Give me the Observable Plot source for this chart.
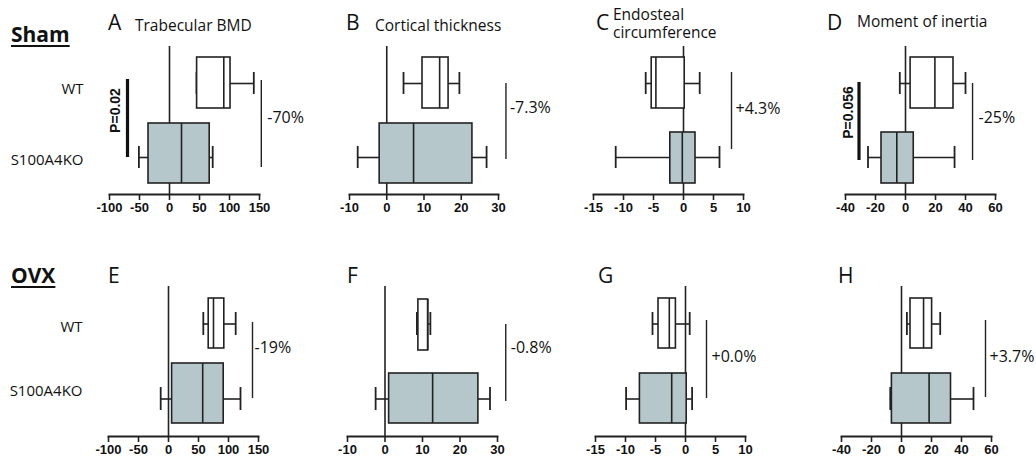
<!DOCTYPE html>
<html><head><meta charset="utf-8">
<script src="https://cdn.jsdelivr.net/npm/d3@7"></script>
<script src="https://cdn.jsdelivr.net/npm/@observablehq/plot@0.6"></script>
<style>
body{margin:0;background:#fff;}
#root{position:relative;width:1036px;height:460px;overflow:hidden;font-family:"Open Sans",sans-serif;color:#111;}
.lbl{position:absolute;white-space:pre;line-height:1;}
.panel{position:absolute;}
.panel svg{max-width:none !important;}
</style></head><body><div id="root"></div>
<script>
// ---------- data ----------
const groups = ["WT", "S100A4KO"];
const rowLabels = ["Sham", "OVX"];
const panelLetters = ["A", "B", "C", "D", "E", "F", "G", "H"];
const panelTitles = ["Trabecular BMD", "Cortical thickness", "Endosteal\ncircumference", "Moment of inertia", "", "", "", ""];
const xDomains = [[-100, 150], [-10, 30], [-15, 10], [-40, 60], [-100, 150], [-10, 30], [-15, 10], [-40, 60]];
const xTicks = [
  [-100, -50, 0, 50, 100, 150], [-10, 0, 10, 20, 30], [-15, -10, -5, 0, 5, 10], [-40, -20, 0, 20, 40, 60],
  [-100, -50, 0, 50, 100, 150], [-10, 0, 10, 20, 30], [-15, -10, -5, 0, 5, 10], [-40, -20, 0, 20, 40, 60]
];
// [min, q1, median, q3, max]
const wtStats = [
  [45, 46, 90.5, 101.7, 140.5], [4.5, 9.6, 14.2, 16.6, 19.5], [-6.3, -5.3, -4.6, 0.2, 2.7], [-3.8, 3.4, 19.6, 32, 40],
  [58, 67, 75, 93, 112], [8.5, 8.9, 11.4, 11.5, 12.1], [-5.5, -4.5, -2.7, -1.6, 0.7], [3.6, 6, 14.7, 20.4, 25.8]
];
const koStats = [
  [-51, -35, 20, 67, 72], [-7.8, -1.9, 7.2, 23, 26.8], [-11.3, -2.2, -0.2, 2, 6], [-25, -16, -5.8, 5.5, 32.7],
  [-13, 6, 57, 92, 120], [-2.5, 1.1, 12.7, 24.9, 28], [-9.9, -7.6, -2.3, 0.2, 1.1], [-7.5, -6.4, 18.4, 33, 48]
];
const changeLabels = ["-70%", "-7.3%", "+4.3%", "-25%", "-19%", "-0.8%", "+0.0%", "+3.7%"];
const pLabels = ["P=0.02", "", "", "P=0.056", "", "", "", ""];

// ---------- layout (positions & styles) ----------
const ink = "#222";
const koFill = "#b5c7ca";
const layout = [
  {row:0, x0:109, x1:259, mL:109, wtIn:[11,12], koIn:[3,11], br:153, brIn:[34,27], pdx:6, pdy:34, pBar:-70, pBarIn:[33,37], pText:-90, pTextDy:27},
  {row:0, x0:349, x1:498, mL:30, wtIn:[11,12], koIn:[3,11], br:32, brIn:[37,35], pdx:4, pdy:24},
  {row:0, x0:593, x1:743, mL:30, wtIn:[11,12], koIn:[12,11], br:8, brIn:[26,45], pdx:4, pdy:25},
  {row:0, x0:845, x1:995, mL:30, wtIn:[11,12], koIn:[12,11], br:44.7, brIn:[37,34], pdx:6, pdy:34, pBar:-31, pBarIn:[36,34], pText:-38, pTextDy:29},
  {row:1, x0:108, x1:258, mL:108, wtIn:[12,13], koIn:[2,13], br:140, brIn:[36,38], pdx:2, pdy:23.5},
  {row:1, x0:347, x1:497, mL:30, wtIn:[13,11], koIn:[12,13], br:32.2, brIn:[38,35], pdx:5, pdy:23.5},
  {row:1, x0:595, x1:745, mL:30, wtIn:[12,13], koIn:[12,13], br:3.5, brIn:[34,38], pdx:5, pdy:32.5},
  {row:1, x0:841, x1:991, mL:30, wtIn:[12,13], koIn:[12,13], br:56, brIn:[34,39], pdx:4, pdy:32.5}
];
const rowGeom = [
  {top:0, height:230, mT:46, mB:36, yRange:[46,194], wtDy:6, koDy:3},
  {top:230, height:230, mT:56, mB:24, yRange:[56,206], wtDy:3, koDy:-8}
];
const mR = 60;
const tickFont = "'Liberation Sans', Arial, sans-serif";
const textFont = "'Open Sans', sans-serif";

const root = document.getElementById("root");

function addLabel(text, left, baseline, size, opts = {}) {
  const d = document.createElement("div");
  d.className = "lbl";
  d.textContent = text;
  d.style.left = left + "px";
  const lh = opts.lineHeight || size;
  d.style.lineHeight = lh + "px";
  // baseline offset for Open Sans (ascent 1.069, descent 0.293)
  const base = (lh - 1.362 * size) / 2 + 1.069 * size;
  d.style.top = (baseline - base) + "px";
  d.style.fontSize = size + "px";
  if (opts.bold) d.style.fontWeight = "bold";
  if (opts.underline) { d.style.textDecoration = "underline"; d.style.textDecorationThickness = "2px"; d.style.textUnderlineOffset = "3px"; }
  root.appendChild(d);
}

function panel(i) {
  const L = layout[i];
  const R = rowGeom[L.row];
  const rows = groups.map((g, j) => {
    const s = j === 0 ? wtStats[i] : koStats[i];
    return {group: g, min: s[0], q1: s[1], med: s[2], q3: s[3], max: s[4]};
  });
  const marks = [];
  marks.push(Plot.ruleX([0], {stroke: ink, strokeWidth: 1.6}));
  rows.forEach((r, j) => {
    const ins = j === 0 ? L.wtIn : L.koIn;
    const d = [r];
    marks.push(Plot.ruleY(d, {y: "group", x1: "min", x2: "q1", stroke: ink, strokeWidth: 1.6}));
    marks.push(Plot.ruleY(d, {y: "group", x1: "q3", x2: "max", stroke: ink, strokeWidth: 1.6}));
    marks.push(Plot.tickX(d, {y: "group", x: "min", stroke: ink, strokeWidth: 1.8, insetTop: 26, insetBottom: 26}));
    marks.push(Plot.tickX(d, {y: "group", x: "max", stroke: ink, strokeWidth: 1.8, insetTop: 26, insetBottom: 26}));
    marks.push(Plot.barX(d, {y: "group", x1: "q1", x2: "q3", fill: j === 0 ? "white" : koFill, stroke: ink, strokeWidth: 1.6, insetTop: ins[0], insetBottom: ins[1]}));
    marks.push(Plot.tickX(d, {y: "group", x: "med", stroke: ink, strokeWidth: 1.6, insetTop: ins[0], insetBottom: ins[1]}));
  });
  // percent-change bracket
  marks.push(Plot.ruleX([{x: L.br, y1: groups[0], y2: groups[1]}], {x: "x", y1: "y1", y2: "y2", stroke: ink, strokeWidth: 1.4, insetTop: L.brIn[0], insetBottom: L.brIn[1]}));
  marks.push(Plot.text([{x: L.br, y: groups[0], t: changeLabels[i]}], {x: "x", y: "y", text: "t", textAnchor: "start", dx: L.pdx, dy: L.pdy, fontSize: 16, fontFamily: textFont, fill: "#111"}));
  if (pLabels[i]) {
    marks.push(Plot.ruleX([{x: L.pBar, y1: groups[0], y2: groups[1]}], {x: "x", y1: "y1", y2: "y2", stroke: "#111", strokeWidth: 3.2, insetTop: L.pBarIn[0], insetBottom: L.pBarIn[1]}));
    marks.push(Plot.text([{x: L.pText, y: groups[0], t: pLabels[i]}], {x: "x", y: "y", text: "t", rotate: -90, dy: L.pTextDy, fontSize: 14, fontWeight: "bold", fontFamily: tickFont, fill: "#111"}));
  }
  marks.push(Plot.frame({anchor: "bottom", stroke: ink, strokeWidth: 1.8}));
  marks.push(Plot.axisX({ticks: xTicks[i], tickFormat: (d) => String(d), tickSize: 6, tickPadding: 2, strokeWidth: 1.6, stroke: ink, fontSize: 13, fontWeight: "bold", fontFamily: tickFont, fill: "#111", label: null}));
  const yAxis = L.mL > 100;
  if (yAxis) {
    marks.push(Plot.axisY({ticks: [groups[0]], tickSize: 0, tickPadding: 26, dy: R.wtDy, fontSize: 15, fontFamily: textFont, fill: "#111", label: null}));
    marks.push(Plot.axisY({ticks: [groups[1]], tickSize: 0, tickPadding: 26, dy: R.koDy, fontSize: 15, fontFamily: textFont, fill: "#111", label: null}));
  }
  const width = L.mL + (L.x1 - L.x0) + mR;
  const svg = Plot.plot({
    width, height: R.height,
    marginLeft: L.mL, marginRight: mR, marginTop: R.mT, marginBottom: R.mB,
    x: {domain: xDomains[i]},
    y: {type: "band", domain: groups, range: R.yRange, padding: 0, axis: yAxis ? undefined : null},
    style: {background: "transparent", overflow: "visible", fontFamily: textFont, maxWidth: "none"},
    marks
  });
  const wrap = document.createElement("div");
  wrap.className = "panel";
  wrap.style.left = (L.x0 - L.mL) + "px";
  wrap.style.top = R.top + "px";
  wrap.style.width = width + "px";
  wrap.appendChild(svg);
  root.appendChild(wrap);
}

for (let i = 0; i < 8; i++) panel(i);

// ---------- text labels ----------
addLabel(rowLabels[0], 11, 43, 21, {bold: true, underline: true});
addLabel(rowLabels[1], 11, 284, 21, {bold: true, underline: true});
const letterPos = [[108,31],[346,31],[596,31],[827,31],[108,284],[347,284],[598,284],[838,284]];
letterPos.forEach(([x, b], i) => addLabel(panelLetters[i], x, b, 21));
const titlePos = [[135,31],[375,31],[613,20],[857,27.5]];
titlePos.forEach(([x, b], i) => addLabel(panelTitles[i], x, b, 15.5, {lineHeight: 18}));
</script></body></html>
